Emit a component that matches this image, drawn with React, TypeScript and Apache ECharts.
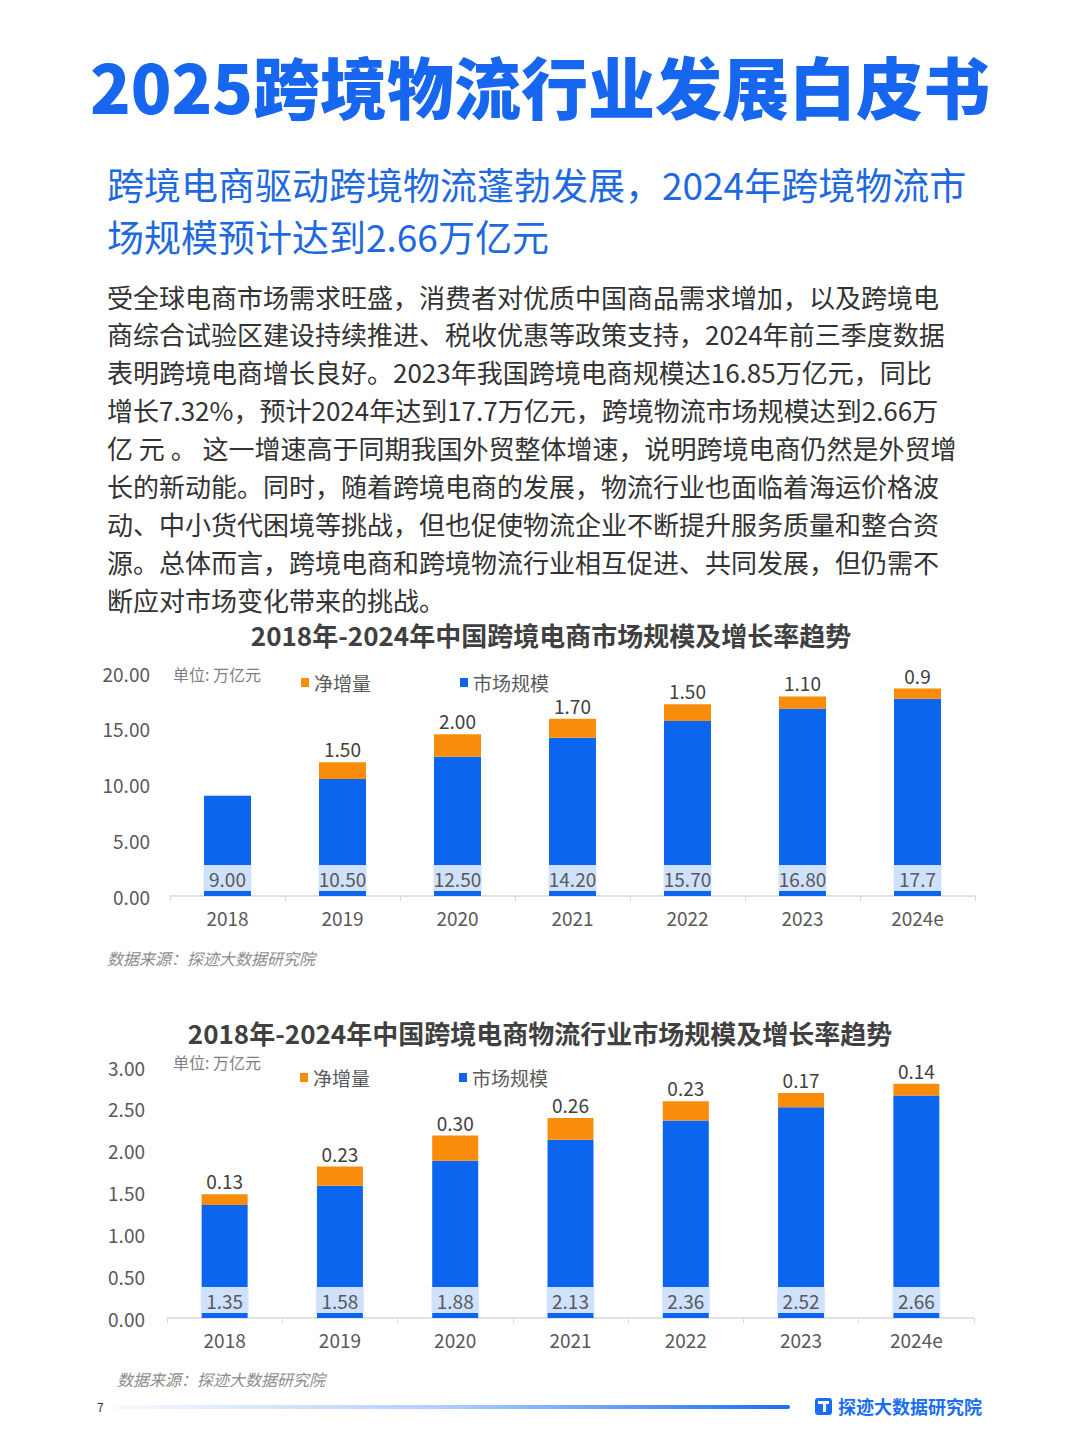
import React, { useEffect, useRef } from "react";
import * as echarts from "echarts";

// Report page: header text, two stacked bar charts, footer
const categories = ["2018", "2019", "2020", "2021", "2022", "2023", "2024e"];

// 跨境电商市场规模 (万亿元)
const ecMarket = [9.0, 10.5, 12.5, 14.2, 15.7, 16.8, 17.7];
const ecIncrease = [null, 1.5, 2.0, 1.7, 1.5, 1.1, 0.9];

// 跨境电商物流市场规模 (万亿元)
const logiMarket = [1.35, 1.58, 1.88, 2.13, 2.36, 2.52, 2.66];
const logiIncrease = [0.13, 0.23, 0.3, 0.26, 0.23, 0.17, 0.14];

const pageTitle = "2025跨境物流行业发展白皮书";
const subtitleLines = [
  "跨境电商驱动跨境物流蓬勃发展，2024年跨境物流市",
  "场规模预计达到2.66万亿元",
];
const bodyLines = [
  "受全球电商市场需求旺盛，消费者对优质中国商品需求增加，以及跨境电",
  "商综合试验区建设持续推进、税收优惠等政策支持，2024年前三季度数据",
  "表明跨境电商增长良好。2023年我国跨境电商规模达16.85万亿元，同比",
  "增长7.32%，预计2024年达到17.7万亿元，跨境物流市场规模达到2.66万",
  "亿 元 。 这一增速高于同期我国外贸整体增速，说明跨境电商仍然是外贸增",
  "长的新动能。同时，随着跨境电商的发展，物流行业也面临着海运价格波",
  "动、中小货代困境等挑战，但也促使物流企业不断提升服务质量和整合资",
  "源。总体而言，跨境电商和跨境物流行业相互促进、共同发展，但仍需不",
  "断应对市场变化带来的挑战。",
];
const chartTitles = [
  "2018年-2024年中国跨境电商市场规模及增长率趋势",
  "2018年-2024年中国跨境电商物流行业市场规模及增长率趋势",
];
const unitText = "单位: 万亿元";
const sourceText = "数据来源：探迹大数据研究院";
const brandText = "探迹大数据研究院";
const pageNumber = "7";

const FONT = '"Noto Sans CJK SC", "Noto Sans", sans-serif';
const BLUE = "#0b65ee";
const ORANGE = "#fa8c0c";
const AXIS_TEXT = "#595959";

function txt(x: number, y: number, text: string, size: number, fill: string, opts: any = {}) {
  return {
    type: "text",
    style: {
      x,
      y,
      text,
      fill,
      font: `${opts.italic ? "italic " : ""}${opts.weight || "normal"} ${size}px ${FONT}`,
      textAlign: opts.align || "left",
      textVerticalAlign: "middle",
    },
  };
}

function marketLabel(twoDecimalsAlways: boolean) {
  return {
    show: true,
    position: "insideBottom",
    distance: 5,
    color: AXIS_TEXT,
    fontSize: 19,
    fontFamily: FONT,
    backgroundColor: "rgba(214,229,252,0.97)",
    width: 48,
    align: "center",
    lineHeight: 20,
    padding: [3, 0],
    formatter: (p: any) =>
      !twoDecimalsAlways && String(p.name).endsWith("e")
        ? String(p.value)
        : Number(p.value).toFixed(2),
  };
}

function increaseLabel(twoDecimalsAlways: boolean) {
  return {
    show: true,
    position: "top",
    distance: 4,
    color: "#404040",
    fontSize: 19,
    fontFamily: FONT,
    formatter: (p: any) =>
      p.value == null
        ? ""
        : !twoDecimalsAlways && String(p.name).endsWith("e")
        ? String(p.value)
        : Number(p.value).toFixed(2),
  };
}

function xAxisFor(gridIndex: number) {
  return {
    type: "category",
    gridIndex,
    data: categories,
    axisLine: { lineStyle: { color: "#d9d9d9", width: 1.5 } },
    axisTick: { show: true, length: 5, lineStyle: { color: "#d9d9d9" } },
    axisLabel: { color: AXIS_TEXT, fontSize: 19, fontFamily: FONT, margin: 12 },
  };
}

function yAxisFor(gridIndex: number, max: number, interval: number, margin: number) {
  return {
    type: "value",
    gridIndex,
    min: 0,
    max,
    interval,
    axisLine: { show: false },
    axisTick: { show: false },
    splitLine: { show: false },
    axisLabel: {
      color: AXIS_TEXT,
      fontSize: 19,
      fontFamily: FONT,
      margin,
      formatter: (v: number) => v.toFixed(2),
    },
  };
}

export default function App() {
  const ref = useRef<HTMLDivElement>(null);

  useEffect(() => {
    if (!ref.current) return;
    const chart = echarts.init(ref.current, null, { renderer: "svg" });

    const graphics: any[] = [];
    graphics.push(txt(540, 84, pageTitle, 67, "#1766f0", { weight: "900", align: "center" }));
    subtitleLines.forEach((line, i) =>
      graphics.push(txt(107, 184 + i * 52, line, 37, "#1e69e0"))
    );
    bodyLines.forEach((line, i) =>
      graphics.push(txt(107, 296 + i * 37.9, line, 26, "#333333"))
    );

    // chart 1 decorations
    graphics.push(txt(551, 634, chartTitles[0], 26, "#404040", { weight: "bold", align: "center" }));
    graphics.push(txt(173, 674, unitText, 16, "#7f7f7f"));
    graphics.push(txt(107, 958, sourceText, 16, "#8c8c8c", { italic: true }));

    // chart 2 decorations
    graphics.push(txt(540, 1032, chartTitles[1], 26, "#404040", { weight: "bold", align: "center" }));
    graphics.push(txt(173, 1062, unitText, 16, "#7f7f7f"));
    graphics.push(txt(117, 1379, sourceText, 16, "#8c8c8c", { italic: true }));

    // footer
    graphics.push(txt(97, 1406, pageNumber, 12, "#333333"));
    graphics.push({
      type: "rect",
      shape: { x: 110, y: 1405, width: 680, height: 4, r: 2 },
      style: {
        fill: new echarts.graphic.LinearGradient(0, 0, 1, 0, [
          { offset: 0, color: "rgba(26,110,245,0.03)" },
          { offset: 0.5, color: "rgba(26,110,245,0.35)" },
          { offset: 1, color: "#1a6ef5" },
        ]),
      },
    });
    graphics.push({
      type: "rect",
      shape: { x: 815, y: 1398, width: 17, height: 17, r: 3 },
      style: { fill: "#1a6ef5" },
    });
    graphics.push({
      type: "rect",
      shape: { x: 818, y: 1401, width: 11, height: 3 },
      style: { fill: "#ffffff" },
    });
    graphics.push({
      type: "rect",
      shape: { x: 823, y: 1401, width: 3, height: 11 },
      style: { fill: "#ffffff" },
    });
    graphics.push(txt(838, 1406, brandText, 18, "#1a6ef5", { weight: "bold" }));

    const legendBase = {
      data: ["净增量", "市场规模"],
      icon: "rect",
      itemWidth: 8,
      itemHeight: 9,
      itemGap: 89,
      selectedMode: false,
      textStyle: { color: AXIS_TEXT, fontSize: 19, fontFamily: FONT },
    };

    chart.setOption({
      animation: false,
      backgroundColor: "#ffffff",
      textStyle: { fontFamily: FONT },
      graphic: graphics,
      legend: [
        { ...legendBase, left: 296, top: 668 },
        { ...legendBase, left: 295, top: 1063 },
      ],
      grid: [
        { left: 170, top: 673, width: 805, height: 223 },
        { left: 167, top: 1067, width: 807, height: 251 },
      ],
      xAxis: [xAxisFor(0), xAxisFor(1)],
      yAxis: [yAxisFor(0, 20, 5, 20), yAxisFor(1, 3, 0.5, 22)],
      series: [
        {
          name: "市场规模",
          type: "bar",
          xAxisIndex: 0,
          yAxisIndex: 0,
          stack: "ec",
          barWidth: 47,
          itemStyle: { color: BLUE },
          label: marketLabel(false),
          data: ecMarket,
        },
        {
          name: "净增量",
          type: "bar",
          xAxisIndex: 0,
          yAxisIndex: 0,
          stack: "ec",
          barWidth: 47,
          itemStyle: { color: ORANGE },
          label: increaseLabel(false),
          data: ecIncrease,
        },
        {
          name: "市场规模",
          type: "bar",
          xAxisIndex: 1,
          yAxisIndex: 1,
          stack: "logi",
          barWidth: 46,
          itemStyle: { color: BLUE },
          label: marketLabel(true),
          data: logiMarket,
        },
        {
          name: "净增量",
          type: "bar",
          xAxisIndex: 1,
          yAxisIndex: 1,
          stack: "logi",
          barWidth: 46,
          itemStyle: { color: ORANGE },
          label: increaseLabel(true),
          data: logiIncrease,
        },
      ],
    });

    return () => chart.dispose();
  }, []);

  return (
    <div
      ref={ref}
      style={{ position: "absolute", left: 0, top: 0, width: 1080, height: 1443 }}
    />
  );
}
